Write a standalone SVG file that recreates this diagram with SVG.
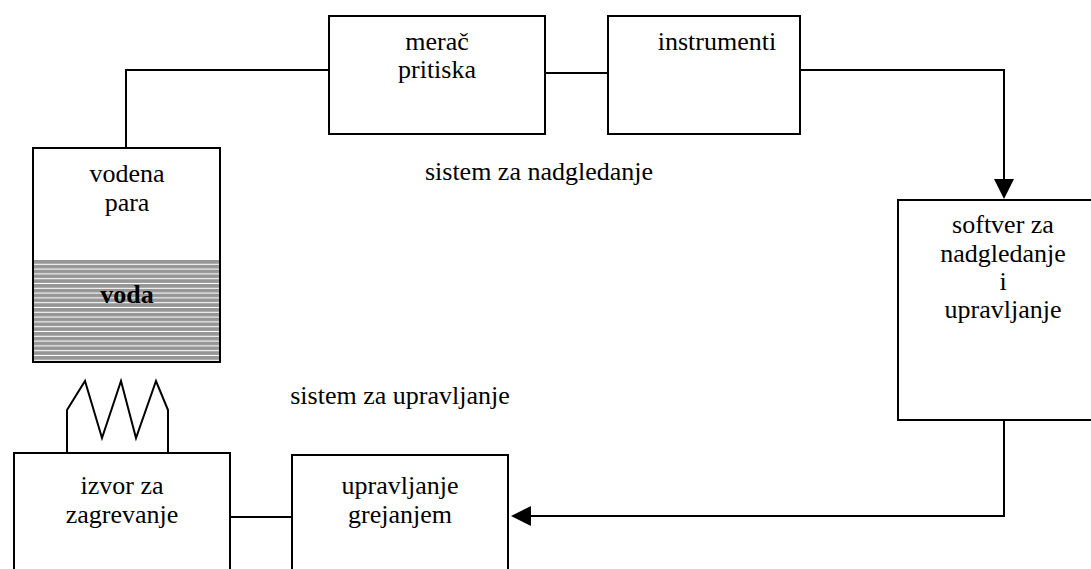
<svg xmlns="http://www.w3.org/2000/svg" width="1091" height="569" viewBox="0 0 1091 569">
  <style>
    .box { fill: #ffffff; stroke: #000000; stroke-width: 2; }
    .wire { fill: none; stroke: #000000; stroke-width: 2; }
    .head { fill: #000000; }
    .lbl { font-family: "Liberation Serif", "Times New Roman", serif; font-size: 26px; fill: #000000; text-anchor: middle; }
    .bold { font-weight: bold; }
  </style>
  <defs>
    <!-- horizontal hatching for the water -->
    <pattern id="waterHatch" patternUnits="userSpaceOnUse" x="0" y="260" width="10" height="4.8">
      <rect x="0" y="0" width="10" height="3.8" fill="#969696"/>
      <rect x="0" y="3.8" width="10" height="1" fill="#ffffff"/>
    </pattern>
  </defs>
  <rect width="1091" height="569" fill="#ffffff"/>

  <!-- connectors -->
  <g id="connectors">
    <polyline class="wire" points="126,148 126,70 329,70"/>
    <line class="wire" x1="545" y1="73" x2="608" y2="73"/>
    <polyline class="wire" points="800,70 1004,70 1004,180"/>
    <polygon class="head" points="994,179 1014,179 1004,199"/>
    <polyline class="wire" points="1004,420 1004,516 530,516"/>
    <polygon class="head" points="531,506 531,526 511,516"/>
    <line class="wire" x1="230" y1="517" x2="292" y2="517"/>
    <!-- heating coil under the vessel -->
    <polyline class="wire" points="67,453 67,410 85,381 102,438 121,381 136,438 156,381 168,410 168,453"/>
  </g>

  <!-- vessel: steam above, water below -->
  <g id="vessel">
    <rect class="box" x="33" y="148" width="187" height="214"/>
    <rect x="34" y="260" width="185" height="101" fill="url(#waterHatch)"/>
    <rect x="33" y="148" width="187" height="214" fill="none" stroke="#000000" stroke-width="2"/>
    <text class="lbl" x="127" y="182">vodena</text>
    <text class="lbl" x="127" y="211">para</text>
    <text class="lbl bold" x="127" y="303">voda</text>
  </g>

  <g id="pressure-gauge">
    <rect class="box" x="329" y="16" width="216" height="118"/>
    <text class="lbl" x="437" y="50">merač</text>
    <text class="lbl" x="437" y="78">pritiska</text>
  </g>

  <g id="instruments">
    <rect class="box" x="608" y="16" width="192" height="118"/>
    <text class="lbl" x="717" y="50">instrumenti</text>
  </g>

  <g id="software">
    <rect class="box" x="898" y="200" width="212" height="220"/>
    <text class="lbl" x="1003" y="233">softver za</text>
    <text class="lbl" x="1003" y="262">nadgledanje</text>
    <text class="lbl" x="1003" y="290">i</text>
    <text class="lbl" x="1003" y="318">upravljanje</text>
  </g>

  <g id="heat-source">
    <rect class="box" x="14" y="453" width="216" height="140"/>
    <text class="lbl" x="122" y="494">izvor za</text>
    <text class="lbl" x="122" y="523">zagrevanje</text>
  </g>

  <g id="heating-control">
    <rect class="box" x="292" y="455" width="216" height="140"/>
    <text class="lbl" x="400" y="494">upravljanje</text>
    <text class="lbl" x="400" y="523">grejanjem</text>
  </g>

  <g id="captions">
    <text class="lbl" x="539" y="180">sistem za nadgledanje</text>
    <text class="lbl" x="400" y="404">sistem za upravljanje</text>
  </g>
</svg>
